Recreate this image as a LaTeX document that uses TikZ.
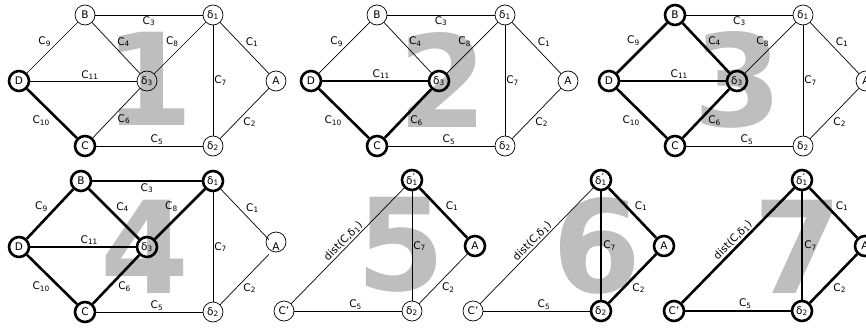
\documentclass[tikz,border=0pt]{standalone}
\usepackage{fontspec}
\setmainfont{DejaVu Sans}
\definecolor{digitgray}{RGB}{190,190,190}

\newcommand{\dl}[1]{δ\textsubscript{#1}}
\newcommand{\dlp}{δ\rlap{\raisebox{0.75ex}{\fontsize{8}{8}\selectfont '}}\textsubscript{1}}
\newcommand{\ed}[1]{C\textsubscript{#1}}

% the seven-vertex graph of panels 1-4
\newcommand{\fullgraph}[1]{%
  \node[vert, vB] (#1B) at (85,15) {B};
  \node[vert, vd1] (#1d1) at (213,15) {\dl{1}};
  \node[vert, vD] (#1D) at (19,81) {D};
  \node[vert, vd3] (#1d3) at (147,81) {\dl{3}};
  \node[vert, vA] (#1A) at (276,81) {A};
  \node[vert, vC] (#1C) at (85,146) {C};
  \node[vert, vd2] (#1d2) at (213,146) {\dl{2}};
  \draw[c3] (#1B) -- node[lab, below] {\ed{3}} (#1d1);
  \draw[c9] (#1D) -- node[lab, above left] {\ed{9}} (#1B);
  \draw[c4] (#1B) -- node[lab, above right] {\ed{4}} (#1d3);
  \draw[c8] (#1d3) -- node[lab, above left] {\ed{8}} (#1d1);
  \draw[c1] (#1d1) -- node[lab, above right] {\ed{1}} (#1A);
  \draw[c11] (#1D) -- node[lab, above, pos=0.56] {\ed{11}} (#1d3);
  \draw[c7] (#1d1) -- node[lab, right] {\ed{7}} (#1d2);
  \draw[c10] (#1D) -- node[lab, below left] {\ed{10}} (#1C);
  \draw[c6] (#1C) -- node[lab, below right] {\ed{6}} (#1d3);
  \draw[c2] (#1d2) -- node[lab, below right, pos=0.45] {\ed{2}} (#1A);
  \draw[c5] (#1C) -- node[lab, above, pos=0.57] {\ed{5}} (#1d2);
}

% the reduced graph of panels 5-7
\newcommand{\partgraph}[1]{%
  \node[vert, vCp] (#1Cp) at (85,146) {C'};
  \node[vert, vd1] (#1d1) at (213,15) {\dlp};
  \node[vert, vA] (#1A) at (276,81) {A};
  \node[vert, vd2] (#1d2) at (213,146) {\dl{2}};
  \draw[cd] (#1Cp) -- node[lab, sloped, above] {dist(C,\dl{1})} (#1d1);
  \draw[c1] (#1d1) -- node[lab, above right] {\ed{1}} (#1A);
  \draw[c7] (#1d1) -- node[lab, right] {\ed{7}} (#1d2);
  \draw[c2] (#1d2) -- node[lab, below right, pos=0.45] {\ed{2}} (#1A);
  \draw[c5] (#1Cp) -- node[lab, above, pos=0.57] {\ed{5}} (#1d2);
}

\begin{document}
\begin{tikzpicture}[
    x=1pt, y=-1pt,
    line width=0.7pt,
    font=\fontsize{10.5}{12}\selectfont,
    vert/.style={circle, draw, minimum size=20pt, inner sep=0pt},
    lab/.style={inner sep=1pt},
    heavy/.style={line width=2.6pt},
    digit/.style={inner sep=0pt, text=digitgray, font=\fontsize{128}{128}\selectfont\bfseries},
    c1/.style={}, c2/.style={}, c3/.style={}, c4/.style={}, c5/.style={}, c6/.style={},
    c7/.style={}, c8/.style={}, c9/.style={}, c10/.style={}, c11/.style={}, cd/.style={},
    vA/.style={}, vB/.style={}, vC/.style={}, vD/.style={}, vCp/.style={},
    vd1/.style={}, vd2/.style={}, vd3/.style={},
]
\useasboundingbox (0,0) rectangle (866,329);
\clip (0,0) rectangle (866,329);

% step numbers behind the graphs
\node[digit] (n1) at (149,79) {1};
\node[digit] (n2) at (443,80) {2};
\node[digit] (n3) at (738,80) {3};
\node[digit] (n4) at (145,247) {4};
\node[digit] (n5) at (401,245) {5};
\node[digit] (n6) at (597,246) {6};
\node[digit] (n7) at (798,247) {7};

\begin{scope}[c10/.style=heavy, vD/.style=heavy, vC/.style=heavy]
  \fullgraph{p1}
\end{scope}

\begin{scope}[shift={(292,0)}, c10/.style=heavy, c11/.style=heavy, c6/.style=heavy,
    vD/.style=heavy, vC/.style=heavy, vd3/.style=heavy]
  \fullgraph{p2}
\end{scope}

\begin{scope}[shift={(590,0)}, c9/.style=heavy, c4/.style=heavy, c11/.style=heavy,
    c10/.style=heavy, c6/.style=heavy,
    vB/.style=heavy, vD/.style=heavy, vd3/.style=heavy, vC/.style=heavy]
  \fullgraph{p3}
\end{scope}

\begin{scope}[shift={(0,166)}, c3/.style=heavy, c9/.style=heavy, c4/.style=heavy,
    c8/.style=heavy, c11/.style=heavy, c10/.style=heavy, c6/.style=heavy,
    vB/.style={heavy, xshift=-4pt}, vd1/.style=heavy, vD/.style=heavy,
    vd3/.style=heavy, vC/.style=heavy, vA/.style={draw=none}]
  \fullgraph{p4}
  \draw ([yshift=5pt]p4A.center) circle (10pt);
\end{scope}

\begin{scope}[shift={(199,165)}, c1/.style=heavy, vd1/.style=heavy, vA/.style=heavy]
  \partgraph{p5}
\end{scope}

\begin{scope}[shift={(388,165)}, c1/.style=heavy, c7/.style=heavy, c2/.style=heavy,
    vd1/.style=heavy, vA/.style=heavy, vd2/.style=heavy]
  \partgraph{p6}
\end{scope}

\begin{scope}[shift={(589,165)}, c1/.style=heavy, c7/.style=heavy, c2/.style=heavy,
    c5/.style=heavy, cd/.style=heavy,
    vCp/.style=heavy, vd1/.style=heavy, vA/.style=heavy, vd2/.style=heavy]
  \partgraph{p7}
\end{scope}
\end{tikzpicture}
\end{document}
